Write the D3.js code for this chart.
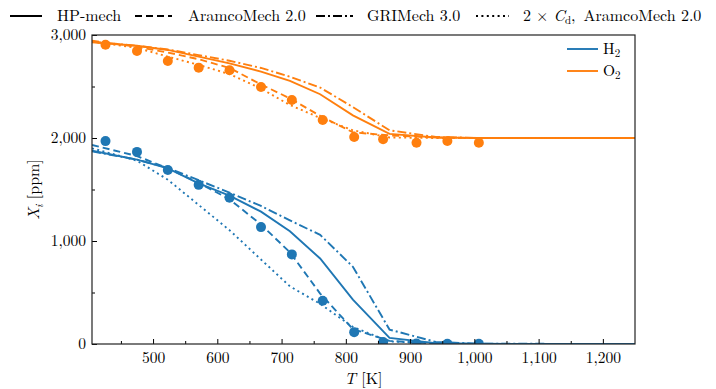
<!DOCTYPE html>
<html>
<head>
<meta charset="utf-8">
<script src="https://cdn.jsdelivr.net/npm/d3@7"></script>
<style>
  body { margin: 0; background: #fff; }
  svg text { font-family: "Latin Modern Roman", "CMU Serif", "Liberation Serif", "Times New Roman", "Tinos", "DejaVu Serif", serif; fill: #000; }
</style>
</head>
<body>
<svg id="chart" width="716" height="389"></svg>
<script>
// Measured mole fractions (ppm) vs temperature (K)
const expT  = [426, 475, 523, 571, 619, 668, 716, 764, 813, 858, 910, 958, 1007];
const expH2 = [1970, 1865, 1690, 1545, 1420, 1135, 870, 420, 115, 20, 5, 2, 2];
const expO2 = [2905, 2845, 2748, 2683, 2657, 2495, 2369, 2175, 2010, 1987, 1954, 1971, 1954];

// Simulated profiles on a common temperature grid
const simT = [405, 475, 523, 571, 619, 668, 713, 760, 811, 868, 940, 1007, 1250];
const hpH2      = [1877, 1790, 1705, 1560, 1440, 1285, 1095, 830, 430, 60, 8, 2, 0];
const aramcoH2  = [1932, 1825, 1705, 1565, 1405, 1160, 890, 490, 145, 30, 4, 1, 0];
const griH2     = [1870, 1790, 1710, 1590, 1470, 1340, 1200, 1060, 750, 140, 20, 3, 0];
const aramco2H2 = [1900, 1780, 1595, 1350, 1105, 820, 560, 390, 165, 25, 3, 0, 0];
const hpO2      = [2930, 2895, 2855, 2790, 2725, 2645, 2555, 2425, 2220, 2040, 2005, 2000, 2000];
const aramcoO2  = [2945, 2885, 2830, 2765, 2680, 2520, 2385, 2215, 2055, 2025, 2005, 2000, 2000];
const griO2     = [2935, 2895, 2860, 2805, 2750, 2680, 2595, 2490, 2300, 2075, 2010, 2000, 2000];
const aramco2O2 = [2935, 2875, 2790, 2710, 2620, 2480, 2320, 2195, 2075, 2005, 2000, 2000, 2000];

const xTicks = [500, 600, 700, 800, 900, 1000, 1100, 1200];
const yTicks = [0, 1000, 2000, 3000];
const mechNames = ["HP-mech", "AramcoMech 2.0", "GRIMech 3.0"];

const BLUE = "#1f77b4", ORANGE = "#ff7f0e";
const dashes = { solid: null, dashed: "7,4", dashdot: "9,3,2,3", dotted: "2,3.4" };

const svg = d3.select("#chart");
const L = 92, R = 635, TOPY = 35, B = 344;
const x = d3.scaleLinear().domain([405, 1250]).range([L, R]);
const y = d3.scaleLinear().domain([0, 3000]).range([B, TOPY]);
const fmt = d3.format(",");

const plot = svg.append("g");
plot.append("defs").append("clipPath").attr("id", "clip")
  .append("rect").attr("x", L).attr("y", TOPY).attr("width", R - L).attr("height", B - TOPY);

const lineGen = d3.line().x(d => x(d[0])).y(d => y(d[1]));
const series = [
  { v: hpH2, c: BLUE, s: "solid" }, { v: aramcoH2, c: BLUE, s: "dashed" },
  { v: griH2, c: BLUE, s: "dashdot" }, { v: aramco2H2, c: BLUE, s: "dotted" },
  { v: hpO2, c: ORANGE, s: "solid" }, { v: aramcoO2, c: ORANGE, s: "dashed" },
  { v: griO2, c: ORANGE, s: "dashdot" }, { v: aramco2O2, c: ORANGE, s: "dotted" }
];
const lines = plot.append("g").attr("clip-path", "url(#clip)");
series.forEach(sr => {
  lines.append("path")
    .datum(simT.map((t, i) => [t, sr.v[i]]))
    .attr("d", lineGen)
    .attr("fill", "none")
    .attr("stroke", sr.c)
    .attr("stroke-width", 1.9)
    .attr("stroke-dasharray", dashes[sr.s]);
});

// experimental markers
[[expH2, BLUE], [expO2, ORANGE]].forEach(([vals, col]) => {
  lines.append("g").selectAll("circle")
    .data(expT.map((t, i) => [t, vals[i]]))
    .join("circle")
    .attr("cx", d => x(d[0])).attr("cy", d => y(d[1]))
    .attr("r", 5).attr("fill", col);
});

// axes with inward ticks
const xAxis = d3.axisBottom(x).tickValues(xTicks).tickFormat(fmt).tickSizeInner(-5).tickSizeOuter(0).tickPadding(8);
const xMinor = d3.axisBottom(x).tickValues(d3.range(450, 1250, 100)).tickFormat("").tickSizeInner(-3).tickSizeOuter(0);
const yAxis = d3.axisLeft(y).tickValues(yTicks).tickFormat(fmt).tickSizeInner(-5).tickSizeOuter(0).tickPadding(6);
const yMinor = d3.axisLeft(y).tickValues([500, 1500, 2500]).tickFormat("").tickSizeInner(-3).tickSizeOuter(0);

[svg.append("g").attr("transform", `translate(0,${B})`).call(xAxis),
 svg.append("g").attr("transform", `translate(0,${B})`).call(xMinor),
 svg.append("g").attr("transform", `translate(${L},0)`).call(yAxis),
 svg.append("g").attr("transform", `translate(${L},0)`).call(yMinor)].forEach(g => {
  g.select(".domain").remove();
  g.attr("font-family", null);
  g.selectAll("line").attr("stroke", "#000").attr("stroke-width", 1);
  g.selectAll("text").attr("font-size", 15.5);
});

svg.append("rect").attr("x", L).attr("y", TOPY).attr("width", R - L).attr("height", B - TOPY)
  .attr("fill", "none").attr("stroke", "#222").attr("stroke-width", 1.2);

// axis titles
const xt = svg.append("text").attr("x", (L + R) / 2).attr("y", 384).attr("text-anchor", "middle").attr("font-size", 16);
xt.append("tspan").attr("font-style", "italic").text("T");
xt.append("tspan").text(" [K]");

const yt = svg.append("text").attr("transform", `translate(39,${(TOPY + B) / 2}) rotate(-90)`)
  .attr("text-anchor", "middle").attr("font-size", 16);
yt.append("tspan").attr("font-style", "italic").text("X");
yt.append("tspan").attr("font-style", "italic").attr("font-size", 11).attr("dy", 4).text("i");
yt.append("tspan").attr("dy", -4).text(" [ppm]");

// species legend inside the frame
const speciesKeys = [["H", "2", BLUE, 49], ["O", "2", ORANGE, 71]];
speciesKeys.forEach(([a, sub, col, yy]) => {
  svg.append("line").attr("x1", 567).attr("x2", 598).attr("y1", yy).attr("y2", yy)
    .attr("stroke", col).attr("stroke-width", 1.9);
  const t = svg.append("text").attr("x", 603).attr("y", yy + 5).attr("font-size", 15.5);
  t.append("tspan").text(a);
  t.append("tspan").attr("font-size", 11).attr("dy", 3).text(sub);
});

// mechanism legend above the frame
const mechKeys = [
  { s: "solid", x1: 10, x2: 42, tx: 57 },
  { s: "dashed", x1: 135, x2: 172, tx: 188 },
  { s: "dashdot", x1: 316, x2: 353, tx: 367 },
  { s: "dotted", x1: 476, x2: 509, tx: 523 }
];
mechKeys.forEach((d, i) => {
  svg.append("line").attr("x1", d.x1).attr("x2", d.x2).attr("y1", 16).attr("y2", 16)
    .attr("stroke", "#000").attr("stroke-width", 2).attr("stroke-dasharray", dashes[d.s]);
  const t = svg.append("text").attr("x", d.tx).attr("y", 21).attr("font-size", 16);
  if (i < 3) {
    t.text(mechNames[i]);
  } else {
    t.append("tspan").text("2");
    t.append("tspan").attr("dx", 5).text("×");
    t.append("tspan").attr("dx", 5).attr("font-style", "italic").text("C");
    t.append("tspan").attr("font-size", 11).attr("dy", 3).text("d");
    t.append("tspan").attr("dy", -3).text(",");
    t.append("tspan").attr("dx", 8).text(mechNames[1]);
  }
});
</script>
</body>
</html>
